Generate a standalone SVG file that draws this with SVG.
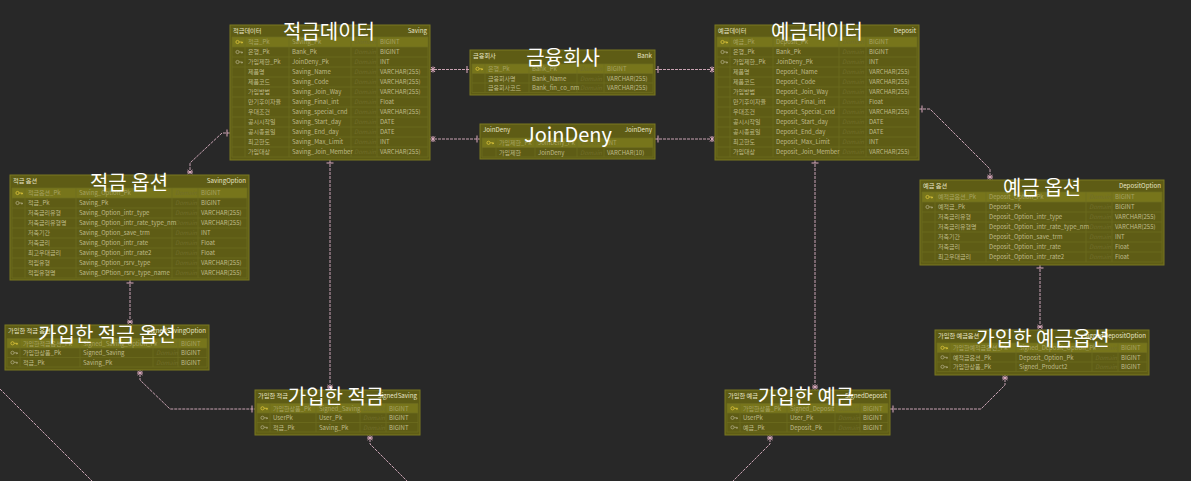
<svg xmlns="http://www.w3.org/2000/svg" width="1191" height="481" viewBox="0 0 1191 481">
<style>
.tb{fill:#5e5c15;stroke:#7a7820;stroke-width:1}
.pk{fill:#77751b}
.gr{fill:none;stroke:#6f6d20;stroke-width:.7}
text{font-family:"Noto Sans CJK KR","Noto Sans",sans-serif}
.tx{font-size:6px;fill:#bfbb8a}
.tp{font-size:6px;fill:#a6a262}
.dm{font-size:6px;fill:#716e2a;font-style:italic}
.tt{font-size:6.2px;fill:#e6e3c4}
.e{text-anchor:end}
.big{font-size:20px;fill:#ffffff;text-anchor:middle}
.kp{stroke:#d9c23a;stroke-width:.8}
.kf{stroke:#aca77e;stroke-width:.8}
.c{fill:none;stroke:#c9a3b3;stroke-width:1;stroke-dasharray:3 1}
</style>
<defs>
<g id="key"><circle cx="-1.5" cy="0" r="1.6" fill="none"/><path d="M0.1,0H3.5M2.6,0V1.4M3.5,0V1.2" fill="none"/></g>
<marker id="one" viewBox="-10 -5 12 10" refX="0" refY="0" markerWidth="12" markerHeight="10" orient="auto-start-reverse" markerUnits="userSpaceOnUse"><path d="M-3,-3.5V3.5" fill="none" stroke="#dcaabd" stroke-width="1"/></marker>
<marker id="many" viewBox="-10 -5 12 10" refX="0" refY="0" markerWidth="12" markerHeight="10" orient="auto-start-reverse" markerUnits="userSpaceOnUse"><path d="M-5,-2.5L-1,2.5M-5,2.5L-1,-2.5M-3,-3V3" fill="none" stroke="#dcaabd" stroke-width="1"/></marker>
</defs>
<rect x="0" y="0" width="1191" height="481" fill="#282828"/>

<g id="connectors">
<path class="c" style="marker-start:url(#many);marker-end:url(#one)" d="M430,69.5H470"/>
<path class="c" style="marker-start:url(#many);marker-end:url(#one)" d="M430,139H480"/>
<path class="c" style="marker-start:url(#one);marker-end:url(#many)" d="M655,69.5H715"/>
<path class="c" style="marker-start:url(#one);marker-end:url(#many)" d="M655,139H715"/>
<path class="c" style="marker-start:url(#one);marker-end:url(#many)" d="M330,160V390"/>
<path class="c" style="marker-start:url(#one);marker-end:url(#many)" d="M815,160V390"/>
<path class="c" style="marker-start:url(#one);marker-end:url(#many)" d="M230,133H222L190,163V175"/>
<path class="c" style="marker-start:url(#one);marker-end:url(#many)" d="M919,109H930L990,169V180"/>
<path class="c" style="marker-start:url(#one);marker-end:url(#many)" d="M130,280V325"/>
<path class="c" style="marker-start:url(#one);marker-end:url(#many)" d="M1040,265V330"/>
<path class="c" style="marker-start:url(#many);marker-end:url(#one)" d="M140,370V380L170,409H255"/>
<path class="c" style="marker-start:url(#many);marker-end:url(#one)" d="M1005,375V385L981,409H890"/>
<path class="c" style="marker-start:url(#many)" d="M370,435V444L407,481"/>
<path class="c" style="marker-start:url(#many)" d="M770,435V444L733,481"/>
<path class="c" d="M0,389L92,481"/>
</g>

<g id="saving">
<rect class="tb" x="230" y="25" width="200" height="135"/>
<rect class="pk" x="232" y="37" width="196" height="10"/>
<path class="gr" d="M232,37H428V157H232ZM232,47H428M232,57H428M232,67H428M232,77H428M232,87H428M232,97H428M232,107H428M232,117H428M232,127H428M232,137H428M232,147H428M245,37V157M289,37V157M351,37V157M377,37V157"/>
<text class="tt" x="233" y="33">적금데이터</text>
<text class="tt e" x="427" y="33">Saving</text>
<use href="#key" x="239" y="42" class="kp"/>
<use href="#key" x="239" y="52" class="kf"/>
<use href="#key" x="239" y="62" class="kf"/>
<text class="tp"><tspan x="248" y="44">적금_Pk</tspan></text>
<text class="tp"><tspan x="292" y="44">Saving_Pk</tspan></text>
<text class="dm"><tspan x="354" y="44">Domain</tspan></text>
<text class="tp"><tspan x="380" y="44">BIGINT</tspan></text>
<text class="tx"><tspan x="248" y="54">은행_Pk</tspan><tspan x="248" dy="10">가입제한_Pk</tspan><tspan x="248" dy="10">제품명</tspan><tspan x="248" dy="10">제품코드</tspan><tspan x="248" dy="10">가입방법</tspan><tspan x="248" dy="10">만기후이자율</tspan><tspan x="248" dy="10">우대조건</tspan><tspan x="248" dy="10">공시시작일</tspan><tspan x="248" dy="10">공시종료일</tspan><tspan x="248" dy="10">최고한도</tspan><tspan x="248" dy="10">가입대상</tspan></text>
<text class="tx"><tspan x="292" y="54">Bank_Pk</tspan><tspan x="292" dy="10">JoinDeny_Pk</tspan><tspan x="292" dy="10">Saving_Name</tspan><tspan x="292" dy="10">Saving_Code</tspan><tspan x="292" dy="10">Saving_Join_Way</tspan><tspan x="292" dy="10">Saving_Final_int</tspan><tspan x="292" dy="10">Saving_special_cnd</tspan><tspan x="292" dy="10">Saving_Start_day</tspan><tspan x="292" dy="10">Saving_End_day</tspan><tspan x="292" dy="10">Saving_Max_Limit</tspan><tspan x="292" dy="10">Saving_Join_Member</tspan></text>
<text class="dm"><tspan x="354" y="54">Domain</tspan><tspan x="354" dy="10">Domain</tspan><tspan x="354" dy="10">Domain</tspan><tspan x="354" dy="10">Domain</tspan><tspan x="354" dy="10">Domain</tspan><tspan x="354" dy="10">Domain</tspan><tspan x="354" dy="10">Domain</tspan><tspan x="354" dy="10">Domain</tspan><tspan x="354" dy="10">Domain</tspan><tspan x="354" dy="10">Domain</tspan><tspan x="354" dy="10">Domain</tspan></text>
<text class="tx"><tspan x="380" y="54">BIGINT</tspan><tspan x="380" dy="10">INT</tspan><tspan x="380" dy="10">VARCHAR(255)</tspan><tspan x="380" dy="10">VARCHAR(255)</tspan><tspan x="380" dy="10">VARCHAR(255)</tspan><tspan x="380" dy="10">Float</tspan><tspan x="380" dy="10">VARCHAR(255)</tspan><tspan x="380" dy="10">DATE</tspan><tspan x="380" dy="10">DATE</tspan><tspan x="380" dy="10">INT</tspan><tspan x="380" dy="10">VARCHAR(255)</tspan></text>
<text class="big" x="329" y="39">적금데이터</text>
</g>

<g id="bank">
<rect class="tb" x="470" y="50" width="185" height="45"/>
<rect class="pk" x="472" y="64" width="181" height="9.5"/>
<path class="gr" d="M472,64H653V92.5H472ZM472,73.5H653M472,83H653M485,64V92.5M529,64V92.5M577,64V92.5M604,64V92.5"/>
<text class="tt" x="473" y="58">금융회사</text>
<text class="tt e" x="652" y="58">Bank</text>
<use href="#key" x="479" y="68.8" class="kp"/>
<text class="tp"><tspan x="488" y="71">은행_Pk</tspan></text>
<text class="tp"><tspan x="532" y="71">Bank_Pk</tspan></text>
<text class="dm"><tspan x="580" y="71">Domain</tspan><tspan x="580" y="80.5">Domain</tspan><tspan x="580" y="90">Domain</tspan></text>
<text class="tp"><tspan x="607" y="71">BIGINT</tspan></text>
<text class="tx"><tspan x="488" y="80.5">금융회사명</tspan><tspan x="488" y="90">금융회사코드</tspan></text>
<text class="tx"><tspan x="532" y="80.5">Bank_Name</tspan><tspan x="532" y="90">Bank_fin_co_nm</tspan></text>
<text class="tx"><tspan x="607" y="80.5">VARCHAR(255)</tspan><tspan x="607" y="90">VARCHAR(255)</tspan></text>
<text class="big" x="563" y="65">금융회사</text>
</g>

<g id="joindeny">
<rect class="tb" x="480" y="124" width="175" height="35"/>
<rect class="pk" x="482" y="138" width="171" height="9.5"/>
<path class="gr" d="M482,138H653V157H482ZM482,147.5H653M496,138V157M535,138V157M577,138V157M604,138V157"/>
<text class="tt" x="483" y="132">JoinDeny</text>
<text class="tt e" x="652" y="132">JoinDeny</text>
<use href="#key" x="490" y="142.8" class="kp"/>
<text class="tp"><tspan x="499" y="145">가입제한_Pk</tspan></text>
<text class="tp"><tspan x="538" y="145">JoinDeny_Pk</tspan></text>
<text class="dm"><tspan x="580" y="145">Domain</tspan><tspan x="580" y="154.5">Domain</tspan></text>
<text class="tp"><tspan x="607" y="145">INT</tspan></text>
<text class="tx"><tspan x="499" y="154.5">가입제한</tspan></text>
<text class="tx"><tspan x="538" y="154.5">JoinDeny</tspan></text>
<text class="tx"><tspan x="607" y="154.5">VARCHAR(10)</tspan></text>
<text class="big" x="568" y="142">JoinDeny</text>
</g>

<g id="deposit">
<rect class="tb" x="715" y="25" width="204" height="135"/>
<rect class="pk" x="717" y="37" width="200" height="10"/>
<path class="gr" d="M717,37H917V157H717ZM717,47H917M717,57H917M717,67H917M717,77H917M717,87H917M717,97H917M717,107H917M717,117H917M717,127H917M717,137H917M717,147H917M730,37V157M773,37V157M839,37V157M866,37V157"/>
<text class="tt" x="718" y="33">예금데이터</text>
<text class="tt e" x="916" y="33">Deposit</text>
<use href="#key" x="724" y="42" class="kp"/>
<use href="#key" x="724" y="52" class="kf"/>
<use href="#key" x="724" y="62" class="kf"/>
<text class="tp"><tspan x="733" y="44">예금_Pk</tspan></text>
<text class="tp"><tspan x="776" y="44">Deposit_Pk</tspan></text>
<text class="dm"><tspan x="842" y="44">Domain</tspan></text>
<text class="tp"><tspan x="869" y="44">BIGINT</tspan></text>
<text class="tx"><tspan x="733" y="54">은행_Pk</tspan><tspan x="733" dy="10">가입제한_Pk</tspan><tspan x="733" dy="10">제품명</tspan><tspan x="733" dy="10">제품코드</tspan><tspan x="733" dy="10">가입방법</tspan><tspan x="733" dy="10">만기후이자율</tspan><tspan x="733" dy="10">우대조건</tspan><tspan x="733" dy="10">공시시작일</tspan><tspan x="733" dy="10">공시종료일</tspan><tspan x="733" dy="10">최고한도</tspan><tspan x="733" dy="10">가입대상</tspan></text>
<text class="tx"><tspan x="776" y="54">Bank_Pk</tspan><tspan x="776" dy="10">JoinDeny_Pk</tspan><tspan x="776" dy="10">Deposit_Name</tspan><tspan x="776" dy="10">Deposit_Code</tspan><tspan x="776" dy="10">Deposit_Join_Way</tspan><tspan x="776" dy="10">Deposit_Final_int</tspan><tspan x="776" dy="10">Deposit_Special_cnd</tspan><tspan x="776" dy="10">Deposit_Start_day</tspan><tspan x="776" dy="10">Deposit_End_day</tspan><tspan x="776" dy="10">Deposit_Max_Limit</tspan><tspan x="776" dy="10">Deposit_Join_Member</tspan></text>
<text class="dm"><tspan x="842" y="54">Domain</tspan><tspan x="842" dy="10">Domain</tspan><tspan x="842" dy="10">Domain</tspan><tspan x="842" dy="10">Domain</tspan><tspan x="842" dy="10">Domain</tspan><tspan x="842" dy="10">Domain</tspan><tspan x="842" dy="10">Domain</tspan><tspan x="842" dy="10">Domain</tspan><tspan x="842" dy="10">Domain</tspan><tspan x="842" dy="10">Domain</tspan><tspan x="842" dy="10">Domain</tspan></text>
<text class="tx"><tspan x="869" y="54">BIGINT</tspan><tspan x="869" dy="10">INT</tspan><tspan x="869" dy="10">VARCHAR(255)</tspan><tspan x="869" dy="10">VARCHAR(255)</tspan><tspan x="869" dy="10">VARCHAR(255)</tspan><tspan x="869" dy="10">Float</tspan><tspan x="869" dy="10">VARCHAR(255)</tspan><tspan x="869" dy="10">DATE</tspan><tspan x="869" dy="10">DATE</tspan><tspan x="869" dy="10">INT</tspan><tspan x="869" dy="10">VARCHAR(255)</tspan></text>
<text class="big" x="817" y="39">예금데이터</text>
</g>

<g id="savingoption">
<rect class="tb" x="10" y="175" width="239" height="105"/>
<rect class="pk" x="12" y="188" width="235" height="10"/>
<path class="gr" d="M12,188H247V278H12ZM12,198H247M12,208H247M12,218H247M12,228H247M12,238H247M12,248H247M12,258H247M12,268H247M25,188V278M76,188V278M172,188V278M198,188V278"/>
<text class="tt" x="13" y="183">적금 옵션</text>
<text class="tt e" x="246" y="183">SavingOption</text>
<use href="#key" x="19" y="193" class="kp"/>
<use href="#key" x="19" y="203" class="kf"/>
<text class="tp"><tspan x="28" y="195">적금옵션_Pk</tspan></text>
<text class="tp"><tspan x="79" y="195">Saving_Option_Pk</tspan></text>
<text class="dm"><tspan x="175" y="195">Domain</tspan><tspan x="175" dy="10">Domain</tspan><tspan x="175" dy="10">Domain</tspan><tspan x="175" dy="10">Domain</tspan><tspan x="175" dy="10">Domain</tspan><tspan x="175" dy="10">Domain</tspan><tspan x="175" dy="10">Domain</tspan><tspan x="175" dy="10">Domain</tspan><tspan x="175" dy="10">Domain</tspan></text>
<text class="tp"><tspan x="201" y="195">BIGINT</tspan></text>
<text class="tx"><tspan x="28" y="205">적금_Pk</tspan><tspan x="28" dy="10">저축금리유형</tspan><tspan x="28" dy="10">저축금리유형명</tspan><tspan x="28" dy="10">저축기간</tspan><tspan x="28" dy="10">저축금리</tspan><tspan x="28" dy="10">최고우대금리</tspan><tspan x="28" dy="10">적립유형</tspan><tspan x="28" dy="10">적립유형명</tspan></text>
<text class="tx"><tspan x="79" y="205">Saving_Pk</tspan><tspan x="79" dy="10">Saving_Option_intr_type</tspan><tspan x="79" dy="10">Saving_Option_intr_rate_type_nm</tspan><tspan x="79" dy="10">Saving_Option_save_trm</tspan><tspan x="79" dy="10">Saving_Option_intr_rate</tspan><tspan x="79" dy="10">Saving_Option_intr_rate2</tspan><tspan x="79" dy="10">Saving_Option_rsrv_type</tspan><tspan x="79" dy="10">Saving_OPtion_rsrv_type_name</tspan></text>
<text class="tx"><tspan x="201" y="205">BIGINT</tspan><tspan x="201" dy="10">VARCHAR(255)</tspan><tspan x="201" dy="10">VARCHAR(255)</tspan><tspan x="201" dy="10">INT</tspan><tspan x="201" dy="10">Float</tspan><tspan x="201" dy="10">Float</tspan><tspan x="201" dy="10">VARCHAR(255)</tspan><tspan x="201" dy="10">VARCHAR(255)</tspan></text>
<text class="big" x="129" y="190">적금 옵션</text>
</g>

<g id="depositoption">
<rect class="tb" x="920" y="180" width="244" height="85"/>
<rect class="pk" x="922" y="192" width="240" height="10"/>
<path class="gr" d="M922,192H1162V262H922ZM922,202H1162M922,212H1162M922,222H1162M922,232H1162M922,242H1162M922,252H1162M935,192V262M986,192V262M1086,192V262M1112,192V262"/>
<text class="tt" x="923" y="188">예금 옵션</text>
<text class="tt e" x="1161" y="188">DepositOption</text>
<use href="#key" x="929" y="197" class="kp"/>
<use href="#key" x="929" y="207" class="kf"/>
<text class="tp"><tspan x="938" y="199">예적금옵션_Pk</tspan></text>
<text class="tp"><tspan x="989" y="199">Deposit_Option_Pk</tspan></text>
<text class="dm"><tspan x="1089" y="199">Domain</tspan><tspan x="1089" dy="10">Domain</tspan><tspan x="1089" dy="10">Domain</tspan><tspan x="1089" dy="10">Domain</tspan><tspan x="1089" dy="10">Domain</tspan><tspan x="1089" dy="10">Domain</tspan><tspan x="1089" dy="10">Domain</tspan></text>
<text class="tp"><tspan x="1115" y="199">BIGINT</tspan></text>
<text class="tx"><tspan x="938" y="209">예적금_Pk</tspan><tspan x="938" dy="10">저축금리유형</tspan><tspan x="938" dy="10">저축금리유형명</tspan><tspan x="938" dy="10">저축기간</tspan><tspan x="938" dy="10">저축금리</tspan><tspan x="938" dy="10">최고우대금리</tspan></text>
<text class="tx"><tspan x="989" y="209">Deposit_Pk</tspan><tspan x="989" dy="10">Deposit_Option_intr_type</tspan><tspan x="989" dy="10">Deposit_Option_intr_rate_type_nm</tspan><tspan x="989" dy="10">Deposit_Option_save_trm</tspan><tspan x="989" dy="10">Deposit_Option_intr_rate</tspan><tspan x="989" dy="10">Deposit_Option_intr_rate2</tspan></text>
<text class="tx"><tspan x="1115" y="209">BIGINT</tspan><tspan x="1115" dy="10">VARCHAR(255)</tspan><tspan x="1115" dy="10">VARCHAR(255)</tspan><tspan x="1115" dy="10">INT</tspan><tspan x="1115" dy="10">Float</tspan><tspan x="1115" dy="10">Float</tspan></text>
<text class="big" x="1042" y="195">예금 옵션</text>
</g>

<g id="signedsavingoption">
<rect class="tb" x="5" y="325" width="204" height="45"/>
<rect class="pk" x="7" y="338.5" width="200" height="9.5"/>
<path class="gr" d="M7,338.5H207V367H7ZM7,348H207M7,357.5H207M20,338.5V367M80,338.5V367M153,338.5V367M178,338.5V367"/>
<text class="tt" x="8" y="333">가입한 적금 옵션</text>
<text class="tt e" x="206" y="333">SignedSavingOption</text>
<use href="#key" x="14" y="343.3" class="kp"/>
<use href="#key" x="14" y="352.8" class="kf"/>
<use href="#key" x="14" y="362.3" class="kf"/>
<text class="tp"><tspan x="23" y="345.5">가입한적금옵션_Pk</tspan></text>
<text class="tp"><tspan x="83" y="345.5">Signed_Saving_Option_Pk</tspan></text>
<text class="dm"><tspan x="156" y="345.5">Domain</tspan><tspan x="156" y="355">Domain</tspan><tspan x="156" y="364.5">Domain</tspan></text>
<text class="tp"><tspan x="181" y="345.5">BIGINT</tspan></text>
<text class="tx"><tspan x="23" y="355">가입한상품_Pk</tspan><tspan x="23" y="364.5">적금_Pk</tspan></text>
<text class="tx"><tspan x="83" y="355">Signed_Saving</tspan><tspan x="83" y="364.5">Saving_Pk</tspan></text>
<text class="tx"><tspan x="181" y="355">BIGINT</tspan><tspan x="181" y="364.5">BIGINT</tspan></text>
<text class="big" x="107" y="342">가입한 적금 옵션</text>
</g>

<g id="signeddepositoption">
<rect class="tb" x="935" y="330" width="214" height="45"/>
<rect class="pk" x="937" y="343" width="210" height="9.5"/>
<path class="gr" d="M937,343H1147V371.5H937ZM937,352.5H1147M937,362H1147M950,343V371.5M1016,343V371.5M1092,343V371.5M1118,343V371.5"/>
<text class="tt" x="938" y="338">가입한 예금옵션</text>
<text class="tt e" x="1146" y="338">SignedDepositOption</text>
<use href="#key" x="944" y="347.8" class="kp"/>
<use href="#key" x="944" y="357.3" class="kf"/>
<use href="#key" x="944" y="366.8" class="kf"/>
<text class="tp"><tspan x="953" y="350">가입한예적금옵션_Pk</tspan></text>
<text class="tp"><tspan x="1019" y="350">Signed_Deposit_Option_Pk</tspan></text>
<text class="dm"><tspan x="1095" y="350">Domain</tspan><tspan x="1095" y="359.5">Domain</tspan><tspan x="1095" y="369">Domain</tspan></text>
<text class="tp"><tspan x="1121" y="350">BIGINT</tspan></text>
<text class="tx"><tspan x="953" y="359.5">예적금옵션_Pk</tspan><tspan x="953" y="369">가입한상품_Pk</tspan></text>
<text class="tx"><tspan x="1019" y="359.5">Deposit_Option_Pk</tspan><tspan x="1019" y="369">Signed_Product2</tspan></text>
<text class="tx"><tspan x="1121" y="359.5">BIGINT</tspan><tspan x="1121" y="369">BIGINT</tspan></text>
<text class="big" x="1043" y="346">가입한 예금옵션</text>
</g>

<g id="signedsaving">
<rect class="tb" x="255" y="390" width="165" height="45"/>
<rect class="pk" x="257" y="403.5" width="161" height="9.5"/>
<path class="gr" d="M257,403.5H418V432H257ZM257,413H418M257,422.5H418M270,403.5V432M316,403.5V432M360,403.5V432M386,403.5V432"/>
<text class="tt" x="258" y="398">가입한 적금</text>
<text class="tt e" x="417" y="398">SignedSaving</text>
<use href="#key" x="264" y="408.3" class="kp"/>
<use href="#key" x="264" y="417.8" class="kf"/>
<use href="#key" x="264" y="427.3" class="kf"/>
<text class="tp"><tspan x="273" y="410.5">가입한상품_Pk</tspan></text>
<text class="tp"><tspan x="319" y="410.5">Signed_Saving</tspan></text>
<text class="dm"><tspan x="363" y="410.5">Domain</tspan><tspan x="363" y="420">Domain</tspan><tspan x="363" y="429.5">Domain</tspan></text>
<text class="tp"><tspan x="389" y="410.5">BIGINT</tspan></text>
<text class="tx"><tspan x="273" y="420">UserPk</tspan><tspan x="273" y="429.5">적금_Pk</tspan></text>
<text class="tx"><tspan x="319" y="420">User_Pk</tspan><tspan x="319" y="429.5">Saving_Pk</tspan></text>
<text class="tx"><tspan x="389" y="420">BIGINT</tspan><tspan x="389" y="429.5">BIGINT</tspan></text>
<text class="big" x="336" y="404">가입한 적금</text>
</g>

<g id="signeddeposit">
<rect class="tb" x="725" y="390" width="165" height="45"/>
<rect class="pk" x="727" y="403.5" width="161" height="9.5"/>
<path class="gr" d="M727,403.5H888V432H727ZM727,413H888M727,422.5H888M740,403.5V432M787,403.5V432M835,403.5V432M860,403.5V432"/>
<text class="tt" x="728" y="398">가입한 예금</text>
<text class="tt e" x="887" y="398">SignedDeposit</text>
<use href="#key" x="734" y="408.3" class="kp"/>
<use href="#key" x="734" y="417.8" class="kf"/>
<use href="#key" x="734" y="427.3" class="kf"/>
<text class="tp"><tspan x="743" y="410.5">가입한상품_Pk</tspan></text>
<text class="tp"><tspan x="790" y="410.5">Signed_Deposit</tspan></text>
<text class="dm"><tspan x="838" y="410.5">Domain</tspan><tspan x="838" y="420">Domain</tspan><tspan x="838" y="429.5">Domain</tspan></text>
<text class="tp"><tspan x="863" y="410.5">BIGINT</tspan></text>
<text class="tx"><tspan x="743" y="420">UserPk</tspan><tspan x="743" y="429.5">예금_Pk</tspan></text>
<text class="tx"><tspan x="790" y="420">User_Pk</tspan><tspan x="790" y="429.5">Deposit_Pk</tspan></text>
<text class="tx"><tspan x="863" y="420">BIGINT</tspan><tspan x="863" y="429.5">BIGINT</tspan></text>
<text class="big" x="806" y="404">가입한 예금</text>
</g>
</svg>
